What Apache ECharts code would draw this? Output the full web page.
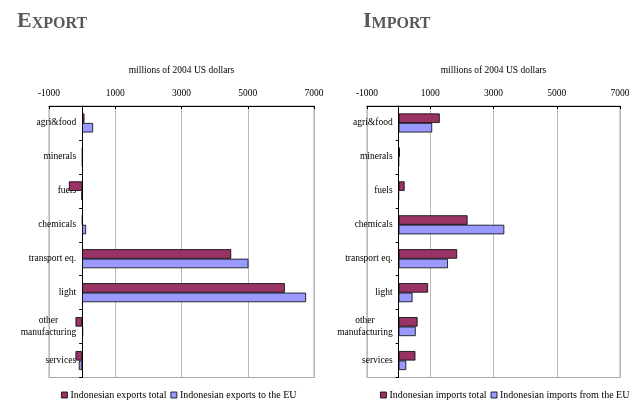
<!DOCTYPE html>
<html>
<head>
<meta charset="utf-8">
<script src="https://cdn.jsdelivr.net/npm/echarts@6/dist/echarts.min.js"></script>
<style>
  html, body { margin: 0; padding: 0; background: #fff; }
  #chart { width: 637px; height: 405px; }
</style>
</head>
<body>
<div id="chart"></div>
<script>
const categories = ["agri&food", "minerals", "fuels", "chemicals", "transport eq.", "light", "other\nmanufacturing", "services"];
const xTicks = [-1000, 1000, 3000, 5000, 7000];

// exports (millions of 2004 US dollars)
const exportsTotal = [70, 10, -400, 10, 4500, 6120, -200, -200];
const exportsEU = [330, 10, -15, 120, 5020, 6760, 30, -100];

// imports
const importsTotal = [1300, 40, 190, 2180, 1850, 930, 600, 530];
const importsEU = [1060, 5, 0, 3340, 1560, 440, 540, 240];

const FONT = "'Liberation Serif', 'Times New Roman', serif";
const colTotal = "#993366";
const colEU = "#9999ff";

// plot boxes: [left, width]
const boxes = [[49, 265], [367, 253]];

const chart = echarts.init(document.getElementById("chart"));

function valueAxis(gridIndex) {
  return {
    type: "value",
    gridIndex: gridIndex,
    position: "top",
    min: xTicks[0],
    max: xTicks[xTicks.length - 1],
    interval: 2000,
    name: "millions of 2004 US dollars",
    nameLocation: "middle",
    nameGap: 31,
    nameTextStyle: { fontFamily: FONT, fontSize: 9.5, color: "#000" },
    axisLine: { show: true, onZero: false, lineStyle: { color: "#000", width: 1 } },
    axisTick: { show: true, inside: true, length: 3, lineStyle: { color: "#000" } },
    axisLabel: { fontFamily: FONT, fontSize: 9.5, color: "#000", margin: 8, formatter: v => String(v) },
    splitLine: { show: true, lineStyle: { color: "#b8b8b8", width: 1 } }
  };
}

function catAxis(gridIndex) {
  const min = xTicks[0], max = xTicks[xTicks.length - 1];
  const w = boxes[gridIndex][1];
  // category axis crosses the value axis at zero
  const zeroShift = (0 - min) / (max - min) * w;
  return {
    type: "category",
    gridIndex: gridIndex,
    data: categories,
    inverse: true,
    offset: -zeroShift,
    axisLine: { show: true, onZero: false, lineStyle: { color: "#000", width: 1 } },
    axisTick: { show: true, length: 3, lineStyle: { color: "#000" } },
    axisLabel: {
      fontFamily: FONT,
      fontSize: 9.5,
      color: "#000",
      margin: 6,
      formatter: function (v) {
        return v.split("\n").map(s => "{c|" + s + "}").join("\n");
      },
      rich: { c: { fontFamily: FONT, fontSize: 9.5, color: "#000", align: "center", lineHeight: 12 } }
    },
    splitLine: { show: false }
  };
}

function barSeries(name, data, color, idx) {
  return {
    name: name,
    type: "bar",
    data: data,
    xAxisIndex: idx,
    yAxisIndex: idx,
    barGap: "0%",
    barCategoryGap: "44%",
    itemStyle: { color: color, borderColor: "#000", borderWidth: 0.8 },
    z: 3
  };
}

function legend(left, names) {
  return {
    left: left,
    top: 390,
    width: 400,
    padding: 0,
    data: names,
    icon: "rect",
    itemWidth: 6,
    itemHeight: 6,
    itemGap: 4,
    textStyle: { fontFamily: FONT, fontSize: 10, color: "#000", padding: [0, 0, 0, -2] },
    itemStyle: { borderColor: "#000", borderWidth: 0.8 }
  };
}

function titleRich() {
  return {
    a: { fontFamily: FONT, fontSize: 22, color: "#595959" },
    b: { fontFamily: FONT, fontSize: 16, color: "#595959", verticalAlign: "bottom" }
  };
}

const option = {
  animation: false,
  backgroundColor: "#fff",
  title: [
    { text: "{a|E}{b|XPORT}", left: 12, top: 5, textStyle: { rich: titleRich() } },
    { text: "{a|I}{b|MPORT}", left: 358, top: 5, textStyle: { rich: titleRich() } }
  ],
  grid: boxes.map(b => ({
    left: b[0], width: b[1], top: 106, bottom: 27.5,
    outerBoundsMode: "none", containLabel: false,
    show: true, borderColor: "#a8a8a8", borderWidth: 1
  })),
  xAxis: [valueAxis(0), valueAxis(1)],
  yAxis: [catAxis(0), catAxis(1)],
  legend: [
    legend(61, ["Indonesian exports total", "Indonesian exports to the EU"]),
    legend(380, ["Indonesian imports total", "Indonesian imports from the EU"])
  ],
  series: [
    barSeries("Indonesian exports total", exportsTotal, colTotal, 0),
    barSeries("Indonesian exports to the EU", exportsEU, colEU, 0),
    barSeries("Indonesian imports total", importsTotal, colTotal, 1),
    barSeries("Indonesian imports from the EU", importsEU, colEU, 1)
  ]
};

chart.setOption(option);
</script>
</body>
</html>
